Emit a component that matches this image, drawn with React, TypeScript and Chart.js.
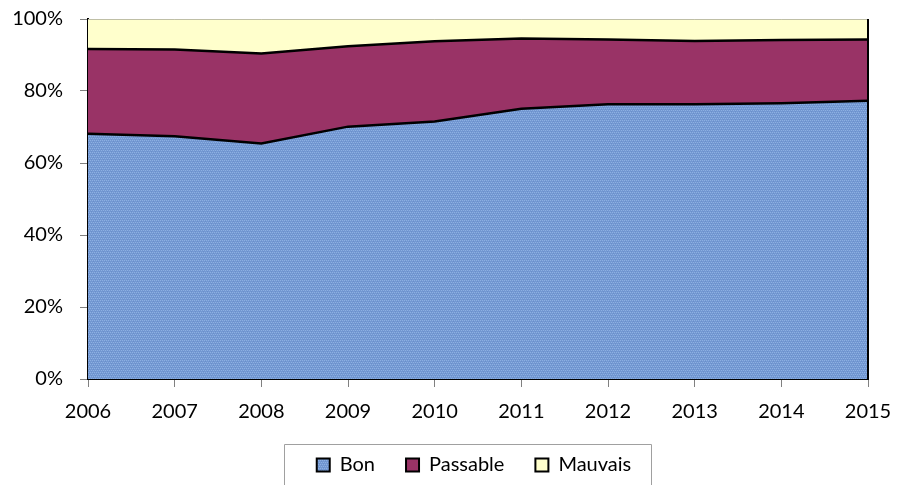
import React, { useEffect, useRef } from "react";
import { Chart, registerables } from "chart.js";

Chart.register(...registerables);

const years = ["2006", "2007", "2008", "2009", "2010", "2011", "2012", "2013", "2014", "2015"];
const bon = [68.1, 67.4, 65.4, 70.1, 71.5, 75.1, 76.3, 76.3, 76.6, 77.3];
const passable = [23.6, 24.1, 25.0, 22.3, 22.3, 19.5, 18.0, 17.6, 17.6, 17.0];
const mauvais = [8.3, 8.5, 9.6, 7.6, 6.2, 5.4, 5.7, 6.1, 5.8, 5.7];
const seriesNames = ["Bon", "Passable", "Mauvais"];
const yTickStep = 20;

const FONT = "Lato";

function makeBluePattern(): CanvasPattern | string {
  const c = document.createElement("canvas");
  c.width = 4;
  c.height = 4;
  const g = c.getContext("2d");
  if (!g) return "#7a9fd8";
  g.fillStyle = "#7398d2";
  g.fillRect(0, 0, 4, 4);
  g.fillStyle = "#8db0e2";
  g.fillRect(0, 0, 1, 1);
  g.fillRect(2, 0, 1, 1);
  g.fillRect(1, 2, 1, 1);
  g.fillRect(3, 2, 1, 1);
  g.fillStyle = "#6a8fcb";
  g.fillRect(1, 1, 1, 1);
  g.fillRect(3, 3, 1, 1);
  const p = g.createPattern(c, "repeat");
  return p || "#7a9fd8";
}

const framePlugin = {
  id: "frame",
  afterLayout(chart: any) {
    const lg = chart.legend;
    if (lg) {
      lg.left -= 4;
      lg.right -= 4;
    }
  },
  afterDraw(chart: any) {
    const { ctx, chartArea } = chart;
    const { right, top, bottom } = chartArea;
    ctx.save();
    ctx.strokeStyle = "#000";
    ctx.lineWidth = 2;
    ctx.beginPath();
    ctx.moveTo(right, top);
    ctx.lineTo(right, bottom);
    ctx.stroke();
    const hb = chart.legend && chart.legend.legendHitBoxes;
    if (hb && hb.length) {
      const first = hb[0];
      const last = hb[hb.length - 1];
      const cy = first.top + first.height / 2;
      const l = Math.round(first.left - 33) + 0.5;
      const r = Math.round(last.left + last.width + 20) + 0.5;
      const t = Math.round(cy - 21) + 0.5;
      ctx.strokeStyle = "#a0a0a0";
      ctx.lineWidth = 1;
      ctx.beginPath();
      ctx.moveTo(l, chart.height + 5);
      ctx.lineTo(l, t);
      ctx.lineTo(r, t);
      ctx.lineTo(r, chart.height + 5);
      ctx.stroke();
    }
    ctx.restore();
  },
};

export default function App() {
  const ref = useRef<HTMLCanvasElement | null>(null);

  useEffect(() => {
    if (!ref.current) return;
    const blue = makeBluePattern();
    const chart = new Chart(ref.current, {
      type: "line",
      data: {
        labels: years,
        datasets: [
          {
            label: seriesNames[0],
            data: bon,
            backgroundColor: blue as any,
            borderColor: "#000",
            borderWidth: 2.5,
            fill: "origin",
            pointRadius: 0,
            tension: 0,
          },
          {
            label: seriesNames[1],
            data: passable,
            backgroundColor: "#993366",
            borderColor: "#000",
            borderWidth: 2.5,
            fill: "-1",
            pointRadius: 0,
            tension: 0,
          },
          {
            label: seriesNames[2],
            data: mauvais,
            backgroundColor: "#ffffcc",
            borderColor: "#808080",
            borderWidth: 1,
            fill: "-1",
            pointRadius: 0,
            tension: 0,
          },
        ],
      },
      options: {
        responsive: false,
        animation: false,
        layout: { padding: { left: 0, right: 29, top: 19, bottom: 0 } },
        plugins: {
          tooltip: { enabled: false },
          legend: {
            position: "bottom",
            fullSize: false,
            labels: {
              font: { family: FONT, size: 20 },
              color: "#000",
              boxWidth: 13,
              boxHeight: 13,
              padding: 31,
              generateLabels: (c: any) =>
                Chart.defaults.plugins.legend.labels.generateLabels(c).map((it: any) => ({
                  ...it,
                  strokeStyle: "#000",
                  lineWidth: 2,
                })),
            },
          },
        },
        scales: {
          x: {
            offset: false,
            grid: {
              drawOnChartArea: false,
              drawTicks: true,
              tickLength: 8,
              tickColor: "#808080",
            },
            border: { color: "#000", width: 2 },
            ticks: {
              font: { family: FONT, size: 20 },
              color: "#000",
              padding: 13,
              maxRotation: 0,
              autoSkip: false,
            },
            afterFit: (s: any) => {
              s.height = 45;
              s.paddingLeft = 0;
              s.paddingRight = 0;
            },
          },
          y: {
            stacked: true,
            min: 0,
            max: 100,
            z: 1,
            grid: {
              color: (ctx: any) => {
                const v = ctx.tick ? ctx.tick.value : -1;
                return v > 0 && v < 80 ? "rgba(30,50,100,0.45)" : "rgba(0,0,0,0)";
              },
              tickColor: "#808080",
              tickLength: 8,
            },
            border: { color: "#000", width: 2 },
            ticks: {
              stepSize: yTickStep,
              font: { family: FONT, size: 20 },
              color: "#000",
              padding: 17,
              callback: (v: any) => v + "%",
            },
            afterFit: (s: any) => {
              s.width = 88;
              s.paddingTop = 0;
              s.paddingBottom = 0;
            },
          },
        },
      },
      plugins: [framePlugin],
    });
    return () => chart.destroy();
  }, []);

  return (
    <div style={{ position: "absolute", left: 0, top: 0, width: 897, height: 485, background: "#fff" }}>
      <canvas ref={ref} width={897} height={485} />
    </div>
  );
}
